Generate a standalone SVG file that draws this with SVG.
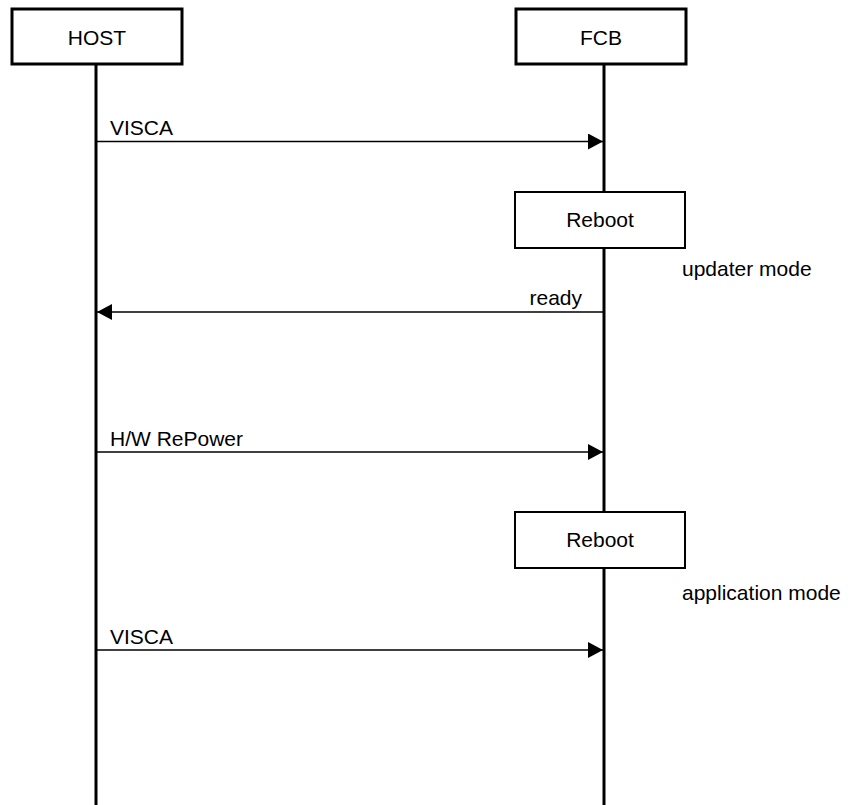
<svg xmlns="http://www.w3.org/2000/svg" width="854" height="805" viewBox="0 0 854 805">
<defs>
<style>
text{font-family:"Liberation Sans",Arial,sans-serif;font-size:21px;fill:#000}
.hdr{fill:#fff;stroke:#000;stroke-width:3}
.act{fill:#fff;stroke:#000;stroke-width:2}
.life{stroke:#000;stroke-width:3;fill:none}
.msg{stroke:#000;stroke-width:1.7;fill:none}
.c{text-anchor:middle}
</style>
<marker id="ah" viewBox="0 0 15 16" refX="15" refY="8" markerWidth="15" markerHeight="16" markerUnits="userSpaceOnUse" orient="auto">
<path d="M0,0 L15,8 L0,16 Z" fill="#000"/>
</marker>
</defs>
<g id="lifelines">
<line class="life" x1="96" y1="64" x2="96" y2="805"/>
<line class="life" x1="604" y1="64" x2="604" y2="805"/>
</g>
<g id="host">
<rect class="hdr" x="12" y="9" width="170" height="55"/>
<text class="c" x="97" y="45">HOST</text>
</g>
<g id="fcb">
<rect class="hdr" x="516" y="9" width="170" height="55"/>
<text class="c" x="601" y="45">FCB</text>
</g>
<g id="reboot1">
<rect class="act" x="515" y="192" width="170" height="56"/>
<text class="c" x="600" y="227">Reboot</text>
</g>
<g id="reboot2">
<rect class="act" x="515" y="512" width="170" height="56"/>
<text class="c" x="600" y="547">Reboot</text>
</g>
<g id="notes">
<text x="682" y="276">updater mode</text>
<text x="682" y="600">application mode</text>
</g>
<g id="connectors">
<line class="msg" x1="96" y1="141.5" x2="603" y2="141.5" marker-end="url(#ah)"/>
<text x="110" y="135">VISCA</text>
<line class="msg" x1="604" y1="312" x2="97" y2="312" marker-end="url(#ah)"/>
<text x="582" y="305" text-anchor="end">ready</text>
<line class="msg" x1="96" y1="452" x2="603" y2="452" marker-end="url(#ah)"/>
<text x="110" y="446">H/W RePower</text>
<line class="msg" x1="96" y1="650" x2="603" y2="650" marker-end="url(#ah)"/>
<text x="110" y="644">VISCA</text>
</g>
</svg>
